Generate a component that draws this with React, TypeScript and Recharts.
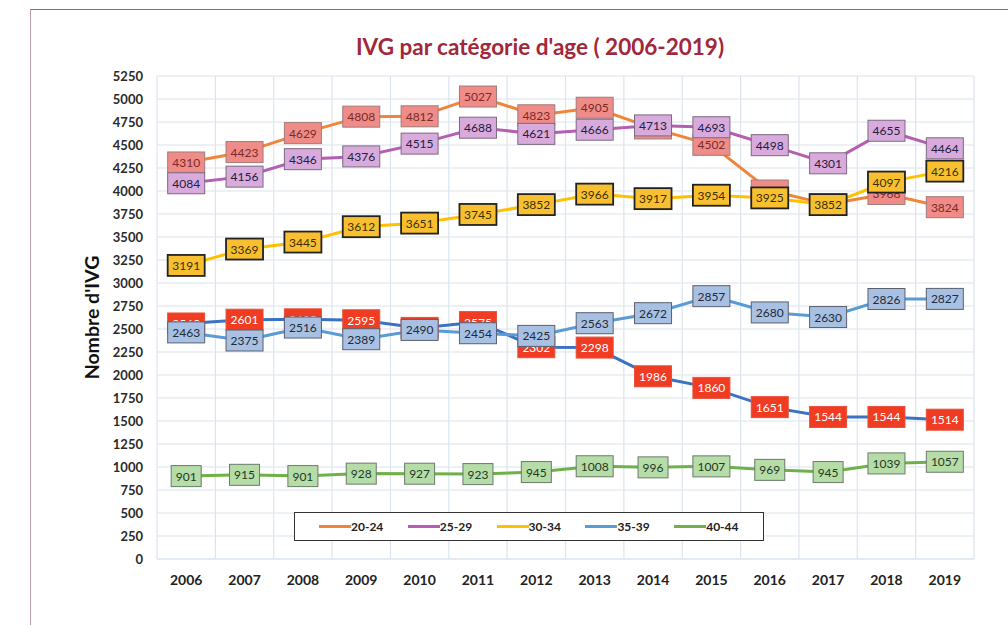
import { LineChart, Line, XAxis, YAxis, CartesianGrid, Legend, LabelList } from 'recharts';

const years = ['2006', '2007', '2008', '2009', '2010', '2011', '2012', '2013', '2014', '2015', '2016', '2017', '2018', '2019'];
const ages2024 = [4310, 4423, 4629, 4808, 4812, 5027, 4823, 4905, 4680, 4502, 4005, 3855, 3968, 3824];
const ages2529 = [4084, 4156, 4346, 4376, 4515, 4688, 4621, 4666, 4713, 4693, 4498, 4301, 4655, 4464];
const ages3034 = [3191, 3369, 3445, 3612, 3651, 3745, 3852, 3966, 3917, 3954, 3925, 3852, 4097, 4216];
const serieRouge = [2560, 2601, 2605, 2595, 2512, 2575, 2302, 2298, 1986, 1860, 1651, 1544, 1544, 1514];
const ages3539 = [2463, 2375, 2516, 2389, 2490, 2454, 2425, 2563, 2672, 2857, 2680, 2630, 2826, 2827];
const ages4044 = [901, 915, 901, 928, 927, 923, 945, 1008, 996, 1007, 969, 945, 1039, 1057];
const yTicks = [0, 250, 500, 750, 1000, 1250, 1500, 1750, 2000, 2250, 2500, 2750, 3000, 3250, 3500, 3750, 4000, 4250, 4500, 4750, 5000, 5250];

const data = years.map((year, i) => ({
    year,
    a2024: ages2024[i],
    a2529: ages2529[i],
    a3034: ages3034[i],
    rouge: serieRouge[i],
    a3539: ages3539[i],
    a4044: ages4044[i],
}));

const font = 'Lato, "Noto Sans", sans-serif';

// plot is 817px wide; half a category of padding so points sit mid-band like Excel
const plotWidth = 817;
const halfBand = plotWidth / (years.length * 2);

// boxed value label, centred on the point
const boxLabel = (fill: string, stroke: string, color: string, strokeWidth = 1) => (props: any) => {
    const { x, y, value } = props;
    if (x == null || y == null) return null;
    const w = String(value).length * 7 + 9;
    return (
        <g>
            <rect x={x - w / 2} y={y - 10.5} width={w} height={21} fill={fill} stroke={stroke} strokeWidth={strokeWidth} />
            <text x={x} y={y} dy={4.5} textAnchor="middle" fontSize={12} fontFamily={font} fill={color}>
                {value}
            </text>
        </g>
    );
};

const renderLegend = (props: any) => {
    const items = (props.payload || []).filter((p: any) => p.type !== 'none' && p.dataKey !== 'rouge');
    return (
        <div style={{ display: 'flex', alignItems: 'center', height: '100%', paddingLeft: 24, boxSizing: 'border-box' }}>
            {items.map((p: any) => (
                <div key={p.value} style={{ display: 'flex', alignItems: 'center', width: 90 }}>
                    <div style={{ width: 32, height: 3, background: p.color }} />
                    <span style={{ fontFamily: font, fontWeight: 700, fontSize: 12, color: '#222' }}>{p.value}</span>
                </div>
            ))}
        </div>
    );
};

export default function App() {
    return (
        <div style={{ position: 'absolute', left: 0, top: 0, width: 1008, height: 625, background: '#fff', overflow: 'hidden' }}>
            <div style={{ position: 'absolute', left: 30, top: 9, width: 1000, height: 640, borderLeft: '1.5px solid #bba2aa', borderTop: '1.5px solid #8c6a72' }} />
            <div style={{ position: 'absolute', left: 0, width: 1080, top: 33, textAlign: 'center', fontFamily: font, fontWeight: 700, fontSize: 22.5, color: '#a0283a' }}>
                IVG par catégorie d'age ( 2006-2019)
            </div>
            <LineChart width={1008} height={625} data={data} margin={{ top: 76, right: 34, bottom: 36, left: 97 }}>
                <CartesianGrid
                    stroke="#dbe4ee"
                    strokeWidth={1.2}
                    verticalCoordinatesGenerator={({ offset }: any) =>
                        Array.from({ length: years.length + 1 }, (_, i) => offset.left + (i * offset.width) / years.length)
                    }
                />
                <XAxis
                    dataKey="year"
                    axisLine={{ stroke: '#dbe4ee' }}
                    tickLine={false}
                    interval={0}
                    height={30}
                    padding={{ left: halfBand, right: halfBand }}
                    tick={{ fontFamily: font, fontWeight: 700, fontSize: 14, fill: '#222' }}
                    tickMargin={10}
                />
                <YAxis
                    domain={[0, 5250]}
                    ticks={yTicks}
                    width={60}
                    axisLine={false}
                    tickLine={false}
                    interval={0}
                    tick={{ fontFamily: font, fontWeight: 700, fontSize: 13, fill: '#2a2a2a' }}
                    tickMargin={8}
                    label={{
                        value: "Nombre d'IVG",
                        angle: -90,
                        position: 'insideLeft',
                        offset: -5,
                        style: { textAnchor: 'middle', fontFamily: font, fontWeight: 700, fontSize: 19.5, fill: '#111' },
                    }}
                />
                <Legend
                    verticalAlign="middle"
                    align="center"
                    content={renderLegend}
                    wrapperStyle={{ left: 294, top: 512, width: 470, height: 29, border: '1.5px solid #333', background: '#fff', boxSizing: 'border-box' }}
                />
                <Line dataKey="a2024" name="20-24" stroke="#f0853a" strokeWidth={3} dot={false} isAnimationActive={false}>
                    <LabelList dataKey="a2024" content={boxLabel('#f08c88', '#a07a7a', '#7a2a2a')} />
                </Line>
                <Line dataKey="a2529" name="25-29" stroke="#b45fb4" strokeWidth={3} dot={false} isAnimationActive={false}>
                    <LabelList dataKey="a2529" content={boxLabel('#d9aadc', '#7a6a80', '#222040')} />
                </Line>
                <Line dataKey="a3034" name="30-34" stroke="#ffc000" strokeWidth={3} dot={false} isAnimationActive={false}>
                    <LabelList dataKey="a3034" content={boxLabel('#f8c030', '#222', '#3a3000', 1.8)} />
                </Line>
                <Line dataKey="rouge" name="rouge" legendType="none" stroke="#3a72c4" strokeWidth={3} dot={false} isAnimationActive={false}>
                    <LabelList dataKey="rouge" content={boxLabel('#f03c22', '#e8503a', '#fff')} />
                </Line>
                <Line dataKey="a3539" name="35-39" stroke="#5b9bd5" strokeWidth={3} dot={false} isAnimationActive={false}>
                    <LabelList dataKey="a3539" content={boxLabel('#a8c0e2', '#5a6070', '#222a3a')} />
                </Line>
                <Line dataKey="a4044" name="40-44" stroke="#70b048" strokeWidth={3} dot={false} isAnimationActive={false}>
                    <LabelList dataKey="a4044" content={boxLabel('#b6dca8', '#6a7a6a', '#223a22')} />
                </Line>
            </LineChart>
        </div>
    );
}
